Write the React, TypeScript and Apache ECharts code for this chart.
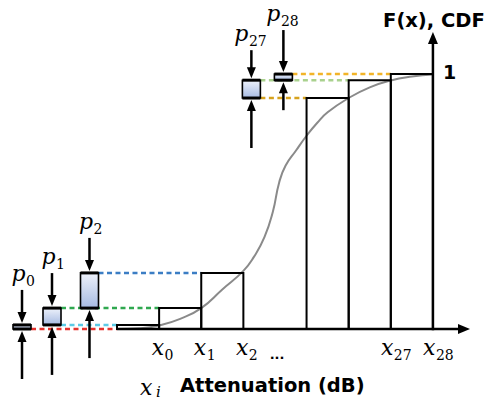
import React, { useEffect, useRef } from "react";
import * as echarts from "echarts";

// ---------------- data ----------------
// x_i tick positions along the attenuation axis (axis units) and their subscripts
const tickNames = ["0", "1", "2", "27", "28"];
const tickValues = [1, 2, 3, 6.5, 7.5];
const ellipsisValue = 3.8;
// histogram-like CDF steps: [start, end] and the CDF height of each step
const barStart = [0, 1, 2, 4.5, 5.5, 6.5];
const barEnd = [1, 2, 3, 5.5, 6.5, 7.5];
const barCdf = [0.016, 0.082, 0.22, 0.906, 0.976, 1.0];
// probability boxes p_i: spans from CDF low to CDF high
const probNames = ["0", "1", "2", "27", "28"];
const probLow = [0, 0.016, 0.082, 0.906, 0.976];
const probHigh = [0.016, 0.082, 0.22, 0.976, 1.0];
// dashed guides: CDF level and the x where each guide ends
const guideLevel = [0, 0.016, 0.082, 0.22, 0.906, 0.976, 1.0];
const guideTarget = [0, 0, 1, 2, 4.5, 5.5, 6.5];
const guideFromBox = [0, 1, 1, 2, 3, 3, 4];
// smooth CDF curve F(x)
const curveX = [0, 0.55, 1.0, 1.5, 2.0, 2.5, 3.0, 3.25, 3.5, 3.7, 3.85, 4.0, 4.25, 4.5, 4.75, 5.0, 5.5, 6.0, 6.5, 7.0, 7.5];
const curveY = [0, 0.003, 0.014, 0.04, 0.082, 0.155, 0.228, 0.283, 0.36, 0.46, 0.575, 0.64, 0.7, 0.758, 0.808, 0.85, 0.906, 0.948, 0.975, 0.99, 0.998];
const yTickValue = 1;
const yTickLabel = "1";
const yAxisName = "F(x), CDF";
const xAxisName = "Attenuation (dB)";
const xAxisSymbol = ["x", "i"];

// ---------------- layout / style ----------------
const X_MAX = 8.38;
const Y_MAX = 1.165;
const Y_AXIS_AT = 7.5;
const boxCenter = [-2.255, -1.543, -0.653, 3.19, 3.95];
const aboveLen = [35, 35, 35, 30, 44];
const belowLen = [50, 50, 50, 50, 30];
const guideColors = ["#e5322d", "#5ccbe6", "#2fa84f", "#3b7dc4", "#d6a21e", "#a9d18e", "#f2b428"];
const SERIF = "'DejaVu Serif', serif";
const SANS = "'DejaVu Sans', sans-serif";
const MID = 0.346;

const txt = (text: string, x: number, baseline: number, size: number, opts: any = {}) => ({
  type: "text",
  x,
  y: baseline - MID * size,
  silent: true,
  style: {
    text,
    fill: "#000",
    fontSize: size,
    fontFamily: opts.family || SERIF,
    fontStyle: opts.style || "normal",
    fontWeight: opts.weight || "normal",
    align: opts.align || "center",
    verticalAlign: "middle",
  },
});

const arrow = (x: number, tipY: number, tailY: number, lw = 2.5, headLen = 11, headHalf = 4.5) => {
  const dir = tipY > tailY ? 1 : -1;
  const baseY = tipY - dir * headLen;
  return [
    { type: "line", shape: { x1: x, y1: tailY, x2: x, y2: baseY + dir * 1 }, style: { stroke: "#000", lineWidth: lw } },
    { type: "polygon", shape: { points: [[x - headHalf, baseY], [x + headHalf, baseY], [x, tipY]] }, style: { fill: "#000" } },
  ];
};

const subLabel = (base: string, sub: string, split: number, baseline: number) => [
  txt(base, split, baseline, 22, { style: "italic", align: "right" }),
  txt(sub, split + 0.5, baseline + 5, 14, { align: "left" }),
];

export default function App() {
  const ref = useRef<HTMLDivElement>(null);
  useEffect(() => {
    if (!ref.current) return;
    const chart = echarts.init(ref.current, null, { renderer: "svg" });
    const boxFill = new echarts.graphic.LinearGradient(0, 0, 0, 1, [
      { offset: 0, color: "#eef2fb" },
      { offset: 1, color: "#a6bae2" },
    ]);
    const option: any = {
      animation: false,
      grid: { left: 117, right: 16, top: 32, bottom: 73 },
      xAxis: { type: "value", min: 0, max: X_MAX, show: false },
      yAxis: { type: "value", min: 0, max: Y_MAX, show: false },
      series: [
        {
          type: "line",
          z: 1,
          data: curveX.map((x, i) => [x, curveY[i]]),
          smooth: 0.5,
          symbol: "none",
          lineStyle: { color: "#8a8a8a", width: 2 },
          silent: true,
        },
        {
          type: "custom",
          z: 2,
          data: guideLevel.map((l, i) => [guideTarget[i], l]),
          renderItem: (params: any, api: any) => {
            const i = params.dataIndex;
            const from = api.coord([boxCenter[guideFromBox[i]], guideLevel[i]]);
            const to = api.coord([guideTarget[i], guideLevel[i]]);
            return {
              type: "line",
              shape: { x1: from[0] + 9, y1: from[1], x2: to[0], y2: to[1] },
              style: { stroke: guideColors[i], lineWidth: 2.5, lineDash: [5, 3.5] },
            };
          },
          silent: true,
        },
        {
          type: "custom",
          z: 3,
          data: barStart.map((s, i) => [s, barCdf[i]]),
          renderItem: (params: any, api: any) => {
            const i = params.dataIndex;
            const a = api.coord([barStart[i], barCdf[i]]);
            const b = api.coord([barEnd[i], 0]);
            return {
              type: "rect",
              shape: { x: a[0], y: a[1], width: b[0] - a[0], height: b[1] - a[1] },
              style: { fill: "none", stroke: "#000", lineWidth: 2 },
            };
          },
          silent: true,
        },
        {
          type: "custom",
          z: 4,
          data: probLow.map((l, i) => [boxCenter[i], l]),
          renderItem: (params: any, api: any) => {
            const i = params.dataIndex;
            const t = api.coord([boxCenter[i], probHigh[i]]);
            const b = api.coord([boxCenter[i], probLow[i]]);
            const cx = t[0], top = t[1], bottom = b[1];
            const tail = top - aboveLen[i];
            const n = probNames[i].length;
            const split = cx + (n === 1 ? 3.5 : -3);
            return {
              type: "group",
              children: [
                { type: "rect", shape: { x: cx - 9, y: top, width: 18, height: bottom - top }, style: { fill: boxFill, stroke: "#000", lineWidth: 1.6 } },
                { type: "line", shape: { x1: cx - 9, y1: top, x2: cx + 9, y2: top }, style: { stroke: "#000", lineWidth: 3 } },
                { type: "line", shape: { x1: cx - 9, y1: bottom, x2: cx + 9, y2: bottom }, style: { stroke: "#000", lineWidth: 3 } },
                ...arrow(cx, top - 2, tail),
                ...arrow(cx, bottom + 2, bottom + belowLen[i]),
                ...subLabel("p", probNames[i], split, tail - 9),
              ],
            };
          },
          silent: true,
        },
        {
          type: "custom",
          z: 5,
          data: tickValues.map((v) => [v, 0]),
          renderItem: (params: any, api: any) => {
            const i = params.dataIndex;
            const p = api.coord([tickValues[i], 0]);
            const n = tickNames[i].length;
            return {
              type: "group",
              children: subLabel("x", tickNames[i], p[0] + (n === 1 ? 5 : 2.5), p[1] + 26),
            };
          },
          silent: true,
        },
        {
          type: "custom",
          z: 6,
          data: [[0, 0]],
          renderItem: (params: any, api: any) => {
            const o = api.coord([0, 0]);
            const xe = api.coord([X_MAX, 0]);
            const yb = api.coord([Y_AXIS_AT, 0]);
            const yt = api.coord([Y_AXIS_AT, Y_MAX]);
            const one = api.coord([Y_AXIS_AT, yTickValue]);
            const dots = api.coord([ellipsisValue, 0]);
            const xHead = 12;
            return {
              type: "group",
              children: [
                { type: "line", shape: { x1: o[0], y1: o[1], x2: xe[0] - xHead + 1, y2: o[1] }, style: { stroke: "#000", lineWidth: 2.5 } },
                { type: "polygon", shape: { points: [[xe[0] - xHead, o[1] - 5], [xe[0] - xHead, o[1] + 5], [xe[0], o[1]]] }, style: { fill: "#000" } },
                { type: "line", shape: { x1: yb[0], y1: yb[1] + 1.2, x2: yt[0], y2: yt[1] + xHead - 1 }, style: { stroke: "#000", lineWidth: 2.5 } },
                { type: "polygon", shape: { points: [[yt[0] - 5, yt[1] + xHead], [yt[0] + 5, yt[1] + xHead], [yt[0], yt[1]]] }, style: { fill: "#000" } },
                txt(yTickLabel, one[0] + 10, one[1] + 4.3, 19, { family: SANS, weight: "bold", align: "left" }),
                txt(yAxisName, yt[0] + 1, yt[1] - 5, 19.5, { family: SANS, weight: "bold", align: "center" }),
                txt("...", dots[0], dots[1] + 30, 13, { family: SANS, weight: "bold", align: "center" }),
                txt(xAxisSymbol[0], o[0] + 23, o[1] + 66, 22, { style: "italic", align: "left" }),
                txt(xAxisSymbol[1], o[0] + 39, o[1] + 68, 15, { style: "italic", align: "left" }),
                txt(xAxisName, o[0] + 63, o[1] + 63.5, 19.5, { family: SANS, weight: "bold", align: "left" }),
              ],
            };
          },
          silent: true,
        },
      ],
    };
    chart.setOption(option);
    return () => chart.dispose();
  }, []);
  return <div ref={ref} style={{ position: "fixed", left: 0, top: 0, width: 486, height: 402, background: "#fff" }} />;
}
